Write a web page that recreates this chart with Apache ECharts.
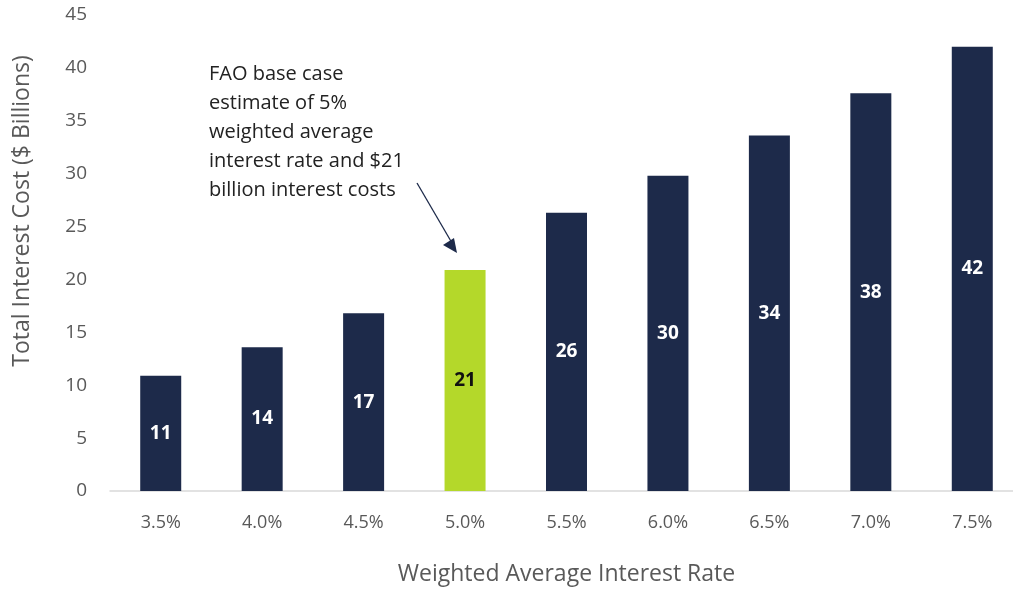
<!DOCTYPE html>
<html>
<head>
<meta charset="utf-8">
<script src="https://cdn.jsdelivr.net/npm/echarts@6/dist/echarts.min.js"></script>
<style>
  html, body { margin: 0; padding: 0; background: #fff; }
  #chart { width: 1013px; height: 590px; }
</style>
</head>
<body>
<div id="chart"></div>
<script>
// interest rate scenarios
const rates = ['3.5%', '4.0%', '4.5%', '5.0%', '5.5%', '6.0%', '6.5%', '7.0%', '7.5%'];
const costs = [10.9, 13.6, 16.8, 20.9, 26.3, 29.8, 33.6, 37.6, 42.0];
const costLabels = ['11', '14', '17', '21', '26', '30', '34', '38', '42'];
const baseCaseIndex = 3;

const navy = '#1d2a4a';
const green = '#b4d82a';
const font = "'Open Sans', 'Noto Sans', sans-serif";

const chart = echarts.init(document.getElementById('chart'));

chart.setOption({
  animation: false,
  backgroundColor: '#fff',
  textStyle: { fontFamily: font },
  grid: { left: 110, top: 15, width: 913, height: 476, outerBoundsMode: 'none', containLabel: false },
  xAxis: {
    type: 'category',
    data: rates,
    name: 'Weighted Average Interest Rate',
    nameLocation: 'middle',
    nameGap: 72,
    nameTextStyle: { fontSize: 23, color: '#595959', fontFamily: font },
    axisLine: { lineStyle: { color: '#d9d9d9', width: 1.5 } },
    axisTick: { show: false },
    axisLabel: { fontSize: 18, color: '#595959', margin: 23, fontFamily: font }
  },
  yAxis: {
    type: 'value',
    min: 0,
    max: 45,
    interval: 5,
    splitLine: { show: false },
    axisLine: { show: false },
    axisTick: { show: false },
    axisLabel: { fontSize: 19, color: '#595959', margin: 23, fontFamily: font }
  },
  series: [{
    type: 'bar',
    barWidth: 41,
    data: costs.map((v, i) => ({
      value: v,
      itemStyle: { color: i === baseCaseIndex ? green : navy },
      label: { color: i === baseCaseIndex ? '#111' : '#fff' }
    })),
    label: {
      show: true,
      position: 'inside',
      fontSize: 19,
      fontWeight: 'bold',
      fontFamily: font,
      formatter: (p) => costLabels[p.dataIndex]
    }
  }],
  graphic: [
    {
      // y axis title sits above the axis centre in the original
      type: 'text',
      x: 22,
      y: 211,
      rotation: Math.PI / 2,
      style: {
        text: 'Total Interest Cost ($ Billions)',
        font: "23px 'Open Sans', 'Noto Sans', sans-serif",
        fill: '#595959',
        align: 'center',
        verticalAlign: 'middle'
      }
    },
    {
      type: 'text',
      left: 209,
      top: 60,
      style: {
        text: 'FAO base case\nestimate of 5%\nweighted average\ninterest rate and $21\nbillion interest costs',
        font: "20px 'Open Sans', 'Noto Sans', sans-serif",
        lineHeight: 29,
        fill: '#222'
      }
    },
    {
      type: 'line',
      shape: { x1: 417, y1: 183, x2: 452, y2: 243 },
      style: { stroke: navy, lineWidth: 1.3 }
    },
    {
      type: 'polygon',
      shape: { points: [[457, 253], [443, 245], [454, 238]] },
      style: { fill: navy }
    }
  ]
});
</script>
</body>
</html>
